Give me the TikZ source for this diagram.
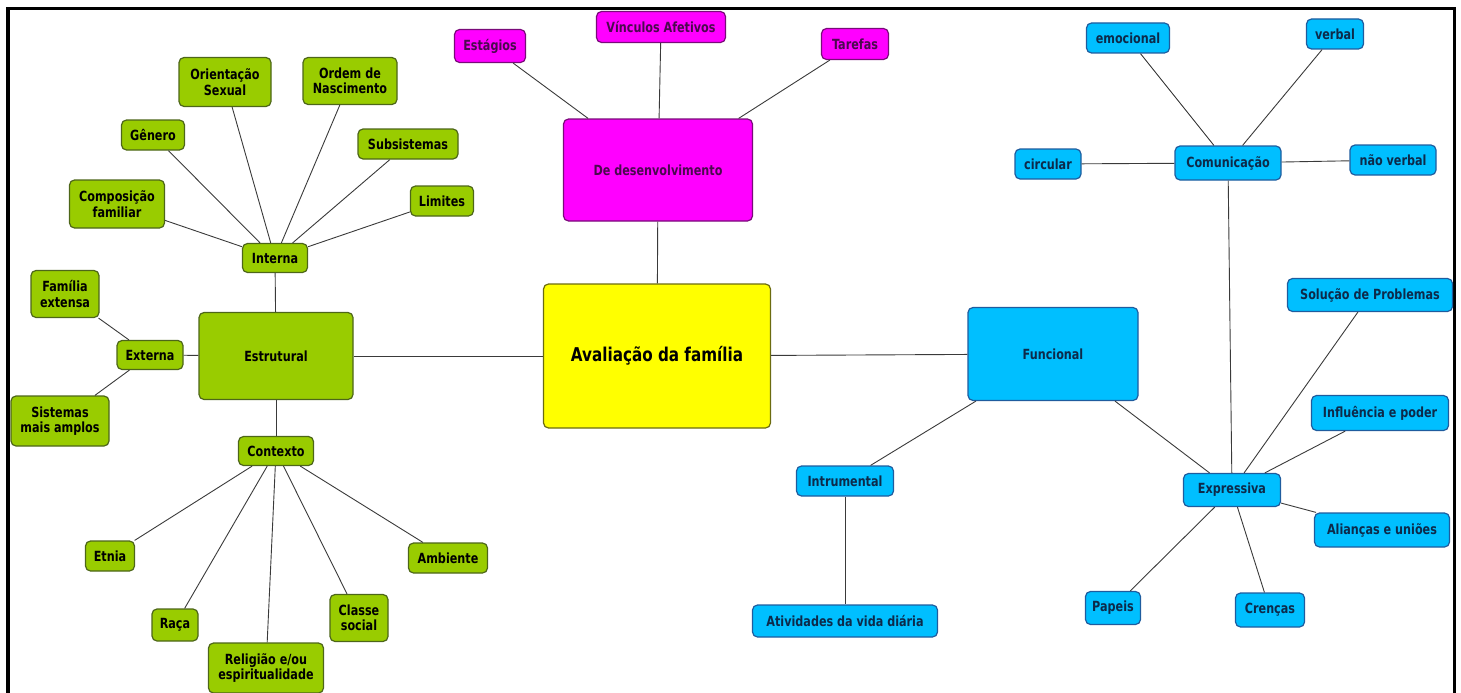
\documentclass[tikz,border=0pt]{standalone}
\usepackage{fontspec}
\setmainfont{DejaVu Sans}[FakeStretch=0.8]
\definecolor{estgreen}{HTML}{99CC00}
\definecolor{estedge}{HTML}{4D6619}
\definecolor{desfill}{HTML}{FF00FF}
\definecolor{desedge}{HTML}{7A0A7A}
\definecolor{destext}{HTML}{4A0A4E}
\definecolor{avalfill}{HTML}{FFFF00}
\definecolor{avaledge}{HTML}{6B6B10}
\definecolor{funfill}{HTML}{00BFFF}
\definecolor{funedge}{HTML}{1F5C9E}
\definecolor{funtext}{HTML}{0D2A4A}
\definecolor{linkgray}{HTML}{3A3A3A}
\begin{document}
\begin{tikzpicture}[x=1pt,y=-1pt,
   font=\bfseries\fontsize{14}{15.5}\selectfont,
   box/.style={draw,rounded corners=5pt,line width=1.2pt,align=center,inner sep=0pt},
   est/.style={box,fill=estgreen,draw=estedge,text=black},
   des/.style={box,fill=desfill,draw=desedge,text=destext},
   fun/.style={box,fill=funfill,draw=funedge,text=funtext},
   root/.style={box,fill=avalfill,draw=avaledge,text=black,font=\bfseries\fontsize{19}{21}\selectfont},
   link/.style={draw=linkgray,line width=0.9pt}]
\useasboundingbox (0,0) rectangle (1461,693);
% frame
\draw[line width=3.5pt] (8.2,700) -- (8.2,8.6) -- (1454.6,8.6) -- (1454.6,700);
% centre
\node[root,minimum width=227,minimum height=144] (aval) at (657,356) {Avaliação da família};
% estrutural
\node[est,minimum width=154,minimum height=87] (estr) at (276,356) {Estrutural};
\node[est,minimum width=65,minimum height=29] (int) at (275,258) {Interna};
\node[est,minimum width=95,minimum height=48] (comp) at (117,204) {Composição\\familiar};
\node[est,minimum width=63,minimum height=30] (gen) at (153,135) {Gênero};
\node[est,minimum width=92,minimum height=49] (ori) at (225,82) {Orientação\\Sexual};
\node[est,minimum width=94,minimum height=47] (ord) at (350,81) {Ordem de\\Nascimento};
\node[est,minimum width=100,minimum height=30] (sub) at (408,144) {Subsistemas};
\node[est,minimum width=63,minimum height=30] (lim) at (442,201) {Limites};
\node[est,minimum width=66,minimum height=29] (ext) at (150,355) {Externa};
\node[est,minimum width=68,minimum height=47] (fam) at (65,294) {Família\\extensa};
\node[est,minimum width=98,minimum height=50] (sis) at (60,421) {Sistemas\\mais amplos};
\node[est,minimum width=75,minimum height=29] (ctx) at (276,451) {Contexto};
\node[est,minimum width=49,minimum height=30] (etn) at (110,556) {Etnia};
\node[est,minimum width=46,minimum height=32] (rac) at (175,625) {Raça};
\node[est,minimum width=115,minimum height=50] (rel) at (266,668) {Religião e/ou\\espiritualidade};
\node[est,minimum width=58,minimum height=47] (cla) at (359,618) {Classe\\social};
\node[est,minimum width=79,minimum height=30] (amb) at (448,558) {Ambiente};
% de desenvolvimento
\node[des,minimum width=189,minimum height=102] (desenv) at (658,170) {De desenvolvimento};
\node[des,minimum width=71,minimum height=33] (estg) at (490,46) {Estágios};
\node[des,minimum width=129,minimum height=31] (vin) at (661,27) {Vínculos Afetivos};
\node[des,minimum width=67,minimum height=31] (tar) at (855,44) {Tarefas};
% funcional
\node[fun,minimum width=170,minimum height=93] (func) at (1053,354) {Funcional};
\node[fun,minimum width=97,minimum height=30] (intr) at (845,481) {Intrumental};
\node[fun,minimum width=185,minimum height=32] (ativ) at (845,621) {Atividades da vida diária};
\node[fun,minimum width=97,minimum height=33] (expr) at (1232,490) {Expressiva};
\node[fun,minimum width=165,minimum height=33] (sol) at (1370,295) {Solução de Problemas};
\node[fun,minimum width=137,minimum height=35] (inf) at (1380,413) {Influência e poder};
\node[fun,minimum width=135,minimum height=34] (ali) at (1382,530) {Alianças e uniões};
\node[fun,minimum width=55,minimum height=33] (pap) at (1113,608) {Papeis};
\node[fun,minimum width=69,minimum height=34] (cre) at (1270,610) {Crenças};
\node[fun,minimum width=106,minimum height=34] (com) at (1228,163) {Comunicação};
\node[fun,minimum width=66,minimum height=30] (cir) at (1048,164) {circular};
\node[fun,minimum width=83,minimum height=30] (emo) at (1128,38) {emocional};
\node[fun,minimum width=57,minimum height=30] (ver) at (1335,34) {verbal};
\node[fun,minimum width=86,minimum height=30] (nao) at (1393,160) {não verbal};
% links
\draw[link] (aval) -- (estr);
\draw[link] (aval) -- (desenv);
\draw[link] (aval) -- (func);
\draw[link] (estr) -- (int);
\draw[link] (estr) -- (ext);
\draw[link] (estr) -- (ctx);
\draw[link] (int) -- (comp);
\draw[link] (int) -- (gen);
\draw[link] (int) -- (ori);
\draw[link] (int) -- (ord);
\draw[link] (int) -- (sub);
\draw[link] (int) -- (lim);
\draw[link] (ext) -- (fam);
\draw[link] (ext) -- (sis);
\draw[link] (ctx) -- (etn);
\draw[link] (ctx) -- (rac);
\draw[link] (ctx) -- (rel);
\draw[link] (ctx) -- (cla);
\draw[link] (ctx) -- (amb);
\draw[link] (desenv) -- (estg);
\draw[link] (desenv) -- (vin);
\draw[link] (desenv) -- (tar);
\draw[link] (func) -- (intr);
\draw[link] (intr) -- (ativ);
\draw[link] (func) -- (expr);
\draw[link] (expr) -- (sol);
\draw[link] (expr) -- (inf);
\draw[link] (expr) -- (ali);
\draw[link] (expr) -- (pap);
\draw[link] (expr) -- (cre);
\draw[link] (expr) -- (com);
\draw[link] (com) -- (cir);
\draw[link] (com) -- (emo);
\draw[link] (com) -- (ver);
\draw[link] (com) -- (nao);
\end{tikzpicture}
\end{document}
